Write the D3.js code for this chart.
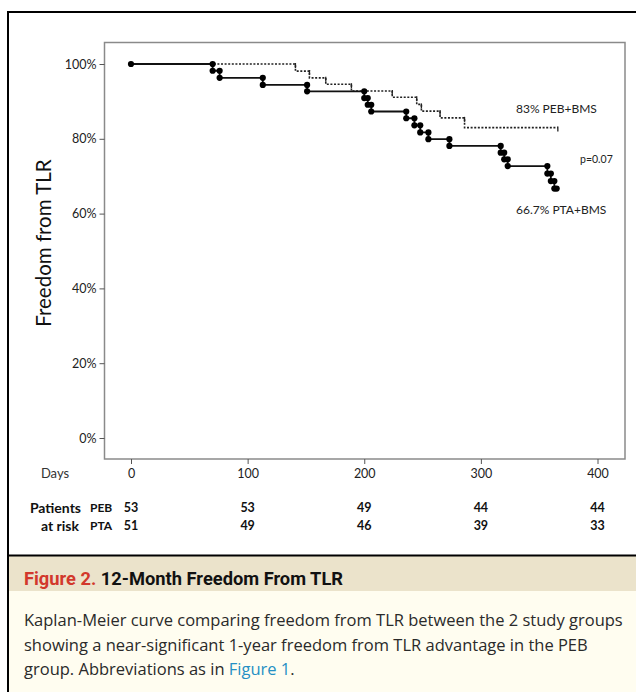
<!DOCTYPE html>
<html>
<head>
<meta charset="utf-8">
<script src="https://cdn.jsdelivr.net/npm/d3@7"></script>
<style>
  body { margin: 0; background: #fff; }
  svg { display: block; }
</style>
</head>
<body>
<svg id="chart"></svg>
<script>
// Kaplan-Meier step data (day of event, freedom from TLR % after it).
const ptaDays = [0, 70, 76, 113, 151, 200, 203, 206, 236, 243, 248, 255, 273, 317, 320, 323, 357, 360, 363];
const ptaSurv = [100, 98.2, 96.3, 94.4, 92.7, 90.9, 89.1, 87.3, 85.5, 83.6, 81.7, 79.9, 78.1, 76.3, 74.5, 72.7, 70.7, 68.7, 66.7];
const ptaEnd = 365;

const pebDays = [0, 141, 153, 167, 189, 224, 245, 249, 265, 286];
const pebSurv = [100, 98.1, 96.3, 94.6, 92.8, 91.1, 89.2, 87.4, 85.6, 83.0];
const pebEnd = 366;

// Axis ticks.
const dayTicks = [0, 100, 200, 300, 400];
const pctTicks = [0, 20, 40, 60, 80, 100];

// Numbers at risk.
const riskGroups = ['PEB', 'PTA'];
const riskPEB = [53, 53, 49, 44, 44];
const riskPTA = [51, 49, 46, 39, 33];

// Some set up.
const width = 636;
const height = 692;
const svg = d3.select('#chart').attr('width', width).attr('height', height);
const chartFont = 'Lato, "Open Sans", sans-serif';

// Scales.
const x = d3.scaleLinear().domain([0, 400]).range([131, 597.5]);
const y = d3.scaleLinear().domain([0, 100]).range([438, 64]);

const frame = { left: 104.5, top: 42.5, right: 625, bottom: 459 };

// Plot frame.
svg.append('rect')
  .attr('x', frame.left).attr('y', frame.top)
  .attr('width', frame.right - frame.left).attr('height', frame.bottom - frame.top)
  .attr('fill', 'none').attr('stroke', '#8a8a8a').attr('stroke-width', 1.5);

// Axes.
const yAxis = svg.append('g')
  .attr('transform', `translate(${frame.left},0)`)
  .call(d3.axisLeft(y).tickValues(pctTicks).tickFormat(d => d + '%').tickSize(5).tickPadding(3));
const xAxis = svg.append('g')
  .attr('transform', `translate(0,${frame.bottom})`)
  .call(d3.axisBottom(x).tickValues(dayTicks).tickSize(5).tickPadding(5));
[yAxis, xAxis].forEach(g => {
  g.select('.domain').remove();
  g.selectAll('line').attr('stroke', '#555').attr('stroke-width', 1);
  g.selectAll('text').attr('font-family', chartFont).attr('font-size', 12.5).attr('fill', '#222');
});

svg.append('text')
  .attr('x', 55).attr('y', 478)
  .attr('text-anchor', 'middle')
  .attr('font-family', chartFont).attr('font-size', 13).attr('fill', '#333')
  .text('Days');

svg.append('text')
  .attr('transform', 'translate(51,243) rotate(-90)')
  .attr('text-anchor', 'middle')
  .attr('font-family', chartFont).attr('font-size', 20.5).attr('fill', '#111')
  .text('Freedom from TLR');

// Curves.
const stepLine = d3.line()
  .x(d => x(d[0]))
  .y(d => y(d[1]))
  .curve(d3.curveStepAfter);

const peb = pebDays.map((d, i) => [d, pebSurv[i]]).concat([[pebEnd, pebSurv[pebSurv.length - 1]]]);
const pta = ptaDays.map((d, i) => [d, ptaSurv[i]]).concat([[ptaEnd, ptaSurv[ptaSurv.length - 1]]]);

svg.append('path')
  .attr('d', stepLine(peb))
  .attr('fill', 'none').attr('stroke', '#222')
  .attr('stroke-width', 1.6).attr('stroke-dasharray', '2,1.6');

// PEB censor ticks at each step and the end.
const pebTicks = pebDays.slice(1).map((d, i) => [d, pebSurv[i]]).concat([[pebEnd, pebSurv[pebSurv.length - 1]]]);
svg.append('g').selectAll('line')
  .data(pebTicks)
  .join('line')
  .attr('x1', d => x(d[0])).attr('x2', d => x(d[0]))
  .attr('y1', d => y(d[1]) - 1).attr('y2', d => y(d[1]) + 4)
  .attr('stroke', '#222').attr('stroke-width', 1.3);

svg.append('path')
  .attr('d', stepLine(pta))
  .attr('fill', 'none').attr('stroke', '#111').attr('stroke-width', 1.8);

// PTA dots at both corners of every step.
const ptaDots = [[0, 100]];
ptaDays.slice(1).forEach((d, i) => {
  ptaDots.push([d, ptaSurv[i]]);
  ptaDots.push([d, ptaSurv[i + 1]]);
});
ptaDots.push([ptaEnd, ptaSurv[ptaSurv.length - 1]]);
svg.append('g').selectAll('circle')
  .data(ptaDots)
  .join('circle')
  .attr('cx', d => x(d[0])).attr('cy', d => y(d[1]))
  .attr('r', 3.1).attr('fill', '#000');

// Curve labels.
const labels = [
  { text: '83% PEB+BMS', x: 516, y: 113, size: 12 },
  { text: 'p=0.07', x: 580, y: 163, size: 10.5 },
  { text: '66.7% PTA+BMS', x: 516, y: 214, size: 12 }
];
svg.append('g').selectAll('text')
  .data(labels)
  .join('text')
  .attr('x', d => d.x).attr('y', d => d.y)
  .attr('font-family', chartFont).attr('font-size', d => d.size).attr('fill', '#222')
  .text(d => d.text);

// Risk table.
const risk = svg.append('g').attr('font-family', chartFont).attr('font-weight', 'bold').attr('fill', '#111');
risk.append('text').attr('x', 81).attr('y', 513).attr('text-anchor', 'end').attr('font-size', 14).text('Patients');
risk.append('text').attr('x', 79).attr('y', 531).attr('text-anchor', 'end').attr('font-size', 14).text('at risk');
[riskPEB, riskPTA].forEach((row, r) => {
  const ry = 512 + r * 18;
  risk.append('text').attr('x', 90).attr('y', ry).attr('font-size', 12).text(riskGroups[r]);
  risk.selectAll(null)
    .data(row)
    .join('text')
    .attr('x', (d, i) => x(dayTicks[i]))
    .attr('y', ry)
    .attr('text-anchor', 'middle')
    .attr('font-size', 12.5)
    .text(d => d);
});

// Caption panel.
svg.append('rect').attr('x', 8).attr('y', 556).attr('width', width - 8).attr('height', 35).attr('fill', '#ebe3cb');
svg.append('rect').attr('x', 8).attr('y', 591).attr('width', width - 8).attr('height', height - 591).attr('fill', '#fffdf0');
svg.append('line').attr('x1', 8).attr('x2', width).attr('y1', 555.5).attr('y2', 555.5).attr('stroke', '#000').attr('stroke-width', 2);
svg.append('line').attr('x1', 8).attr('x2', width).attr('y1', 12).attr('y2', 12).attr('stroke', '#000').attr('stroke-width', 2);
svg.append('line').attr('x1', 8).attr('x2', 8).attr('y1', 11).attr('y2', height).attr('stroke', '#000').attr('stroke-width', 2);

const title = svg.append('text')
  .attr('x', 24).attr('y', 584.5)
  .attr('font-family', '"Liberation Sans Narrow", "Roboto", sans-serif')
  .attr('font-weight', 'bold').attr('font-size', 18.3);
title.append('tspan').attr('fill', '#d2382c').text('Figure 2. ');
title.append('tspan').attr('fill', '#111').text('12-Month Freedom From TLR');

const captionLines = [
  'Kaplan-Meier curve comparing freedom from TLR between the 2 study groups',
  'showing a near-significant 1-year freedom from TLR advantage in the PEB'
];
const bodyFont = '"Open Sans", Lato, sans-serif';
svg.append('g').selectAll('text')
  .data(captionLines)
  .join('text')
  .attr('x', 24).attr('y', (d, i) => 626 + i * 24.5)
  .attr('font-family', bodyFont).attr('font-size', 16.5).attr('fill', '#2a2a2a')
  .text(d => d);
const last = svg.append('text')
  .attr('x', 24).attr('y', 675)
  .attr('font-family', bodyFont).attr('font-size', 16.5).attr('fill', '#2a2a2a');
last.append('tspan').text('group. Abbreviations as in ');
last.append('tspan').attr('fill', '#2590c4').text('Figure 1');
last.append('tspan').text('.');
</script>
</body>
</html>
